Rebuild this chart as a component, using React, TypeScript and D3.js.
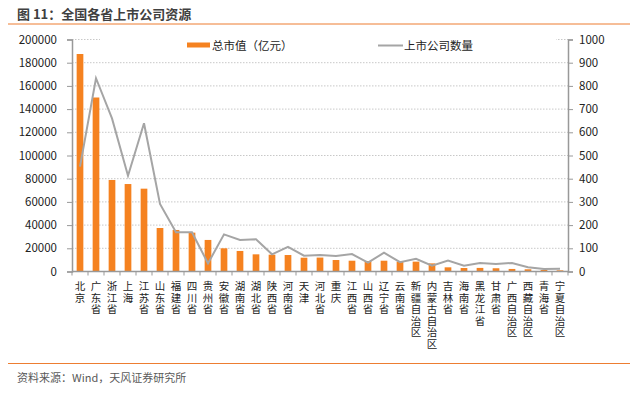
import React, { useRef, useEffect } from 'react';
import * as d3 from 'd3';

const provinces = [
  '北京', '广东省', '浙江省', '上海', '江苏省', '山东省', '福建省', '四川省',
  '贵州省', '安徽省', '湖南省', '湖北省', '陕西省', '河南省', '天津', '河北省',
  '重庆', '江西省', '山西省', '辽宁省', '云南省', '新疆自治区', '内蒙古自治区',
  '吉林省', '海南省', '黑龙江省', '甘肃省', '广西自治区', '西藏自治区', '青海省', '宁夏自治区',
];

// 总市值（亿元）
const marketCap = [
  187500, 150000, 78900, 75400, 71400, 37500, 35800, 33500,
  27200, 20000, 17700, 14800, 14500, 14200, 11900, 12000,
  9900, 9300, 9000, 9300, 8500, 8500, 7000,
  3600, 3000, 3100, 2800, 2200, 1900, 1300, 1000,
];

// 上市公司数量
const companyCount = [
  452, 833, 660, 413, 639, 291, 169, 169,
  35, 160, 136, 139, 74, 106, 68, 71,
  67, 75, 38, 81, 40, 55, 25,
  47, 25, 37, 32, 37, 18, 11, 12,
];

const leftTicks = [0, 20000, 40000, 60000, 80000, 100000, 120000, 140000, 160000, 180000, 200000];
const rightTicks = [0, 100, 200, 300, 400, 500, 600, 700, 800, 900, 1000];

const FONT = '"Noto Sans CJK SC", "Noto Sans", sans-serif';

const App = () => {
  const svgRef = useRef(null);

  useEffect(() => {
    const svg = d3.select(svgRef.current);
    svg.selectAll('*').remove();

    const left = 72;
    const right = 568;
    const top = 39.5;
    const bottom = 271.5;

    const x = d3.scaleBand().domain(provinces).range([left, right]).paddingInner(0).paddingOuter(0);
    const yL = d3.scaleLinear().domain([0, 200000]).range([bottom, top]);
    const yR = d3.scaleLinear().domain([0, 1000]).range([bottom, top]);

    // title
    svg.append('text')
      .attr('x', 17).attr('y', 19)
      .attr('font-family', FONT).attr('font-size', 13).attr('font-weight', 'bold')
      .attr('fill', '#404040')
      .text('图 11：全国各省上市公司资源');
    svg.append('line')
      .attr('x1', 8).attr('x2', 630).attr('y1', 24).attr('y2', 24)
      .attr('stroke', '#ED7D31').attr('stroke-width', 1);

    // grid
    svg.append('g')
      .selectAll('line')
      .data(leftTicks.slice(1))
      .enter()
      .append('line')
      .attr('x1', left).attr('x2', right)
      .attr('y1', (d) => yL(d)).attr('y2', (d) => yL(d))
      .attr('stroke', '#C8C8C8').attr('stroke-dasharray', '1.5,1.5');

    // legend background covers the top grid line
    svg.append('rect')
      .attr('x', 100).attr('y', 33).attr('width', 456).attr('height', 20)
      .attr('fill', '#fff');

    // bars
    const barW = 6.7;
    svg.append('g')
      .selectAll('rect')
      .data(marketCap)
      .enter()
      .append('rect')
      .attr('x', (d, i) => x(provinces[i]) + x.bandwidth() / 2 - barW / 2)
      .attr('y', (d) => yL(d))
      .attr('width', barW)
      .attr('height', (d) => bottom - yL(d))
      .attr('fill', '#F58220');

    // line
    const line = d3.line()
      .x((d, i) => x(provinces[i]) + x.bandwidth() / 2)
      .y((d) => yR(d));
    svg.append('path')
      .datum(companyCount)
      .attr('d', line)
      .attr('fill', 'none')
      .attr('stroke', '#A5A5A5')
      .attr('stroke-width', 2);

    // left axis
    const gL = svg.append('g')
      .attr('transform', `translate(${left},0)`)
      .call(d3.axisLeft(yL).tickValues(leftTicks).tickSize(5).tickPadding(10).tickFormat(d3.format('d')));
    // right axis
    const gR = svg.append('g')
      .attr('transform', `translate(${right},0)`)
      .call(d3.axisRight(yR).tickValues(rightTicks).tickSize(5).tickPadding(6).tickFormat(d3.format('d')));
    [gL, gR].forEach((g) => {
      g.select('.domain').attr('stroke', '#999').attr('stroke-width', 1.5);
      g.selectAll('.tick line').attr('stroke', '#999');
      g.selectAll('.tick text')
        .attr('font-family', FONT).attr('font-size', 11.5).attr('fill', '#222');
    });

    // bottom axis
    const gB = svg.append('g');
    gB.append('line')
      .attr('x1', left).attr('x2', right).attr('y1', bottom).attr('y2', bottom)
      .attr('stroke', '#999').attr('stroke-width', 1.5);
    gB.selectAll('line.tk')
      .data(provinces.concat(['__end']))
      .enter()
      .append('line')
      .attr('class', 'tk')
      .attr('x1', (d, i) => left + i * x.bandwidth())
      .attr('x2', (d, i) => left + i * x.bandwidth())
      .attr('y1', bottom).attr('y2', bottom + 4)
      .attr('stroke', '#999');

    // vertical category labels (upright, top to bottom)
    gB.selectAll('text.lbl')
      .data(provinces)
      .enter()
      .append('text')
      .attr('class', 'lbl')
      .attr('x', (d) => x(d) + x.bandwidth() / 2)
      .attr('y', 281)
      .attr('font-family', FONT).attr('font-size', 10.5).attr('fill', '#222')
      .style('writing-mode', 'vertical-rl')
      .style('text-orientation', 'upright')
      .style('letter-spacing', '1px')
      .text((d) => d);

    // legend
    svg.append('rect')
      .attr('x', 187).attr('y', 42.5).attr('width', 23).attr('height', 5)
      .attr('fill', '#F58220');
    svg.append('text')
      .attr('x', 212).attr('y', 49.5)
      .attr('font-family', FONT).attr('font-size', 11.5).attr('fill', '#222')
      .text('总市值（亿元）');
    svg.append('line')
      .attr('x1', 378).attr('x2', 403).attr('y1', 45.5).attr('y2', 45.5)
      .attr('stroke', '#A5A5A5').attr('stroke-width', 2);
    svg.append('text')
      .attr('x', 404).attr('y', 49.5)
      .attr('font-family', FONT).attr('font-size', 11.5).attr('fill', '#222')
      .text('上市公司数量');

    // footer
    svg.append('line')
      .attr('x1', 8).attr('x2', 630).attr('y1', 363.5).attr('y2', 363.5)
      .attr('stroke', '#ED7D31').attr('stroke-width', 1);
    svg.append('text')
      .attr('x', 17).attr('y', 382)
      .attr('font-family', FONT).attr('font-size', 11).attr('fill', '#595959')
      .text('资料来源：Wind，天风证券研究所');
  }, []);

  return (
    <svg
      ref={svgRef}
      width={638}
      height={394}
      style={{ position: 'absolute', left: 0, top: 0, background: '#fff' }}
    ></svg>
  );
};

export default App;
